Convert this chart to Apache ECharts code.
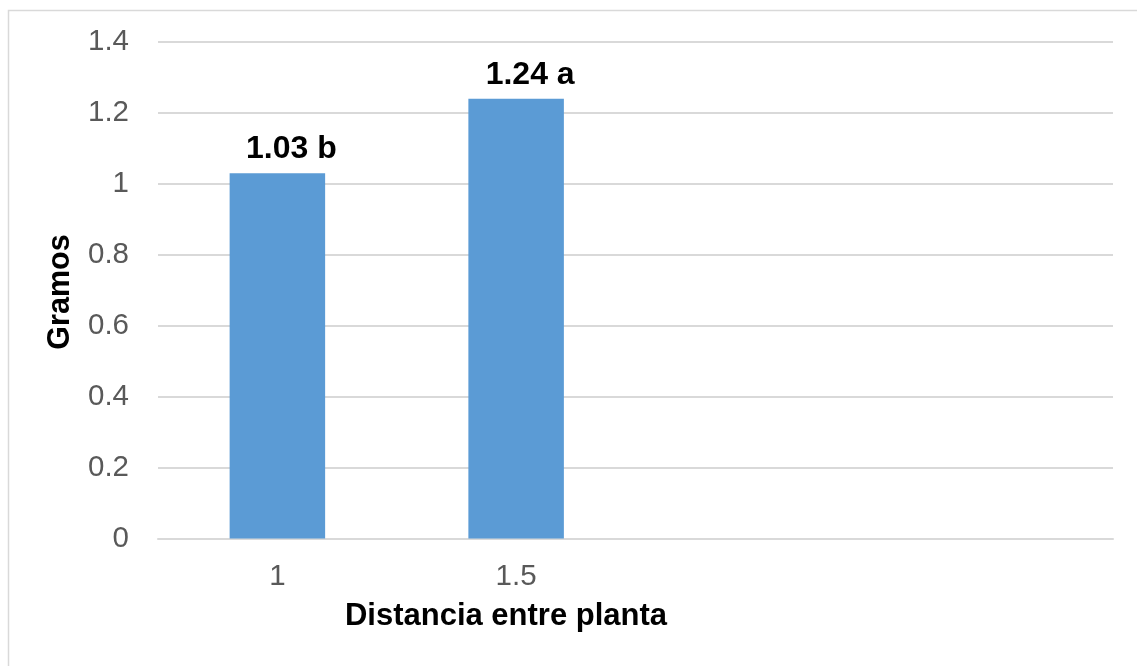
<!DOCTYPE html>
<html>
<head>
<meta charset="utf-8">
<script src="https://cdn.jsdelivr.net/npm/echarts@6/dist/echarts.min.js"></script>
<style>
  html, body { margin: 0; padding: 0; background: #fff; }
  #chart { width: 1137px; height: 666px; }
</style>
</head>
<body>
<div id="chart"></div>
<script>
// Plant spacing (x) vs. weight in grams, with significance letters
const categories = ['1', '1.5', '', ''];
const grams = [1.03, 1.24, null, null];
const letters = ['b', 'a', '', ''];
const yTicks = { min: 0, max: 1.4, step: 0.2 };

const FONT = '"Liberation Sans", Arial, sans-serif';

const chart = echarts.init(document.getElementById('chart'));

chart.setOption({
  animation: false,
  backgroundColor: '#fff',
  grid: { left: 158, right: 24, top: 42, bottom: 127.5 },
  xAxis: {
    type: 'category',
    data: categories,
    axisLine: { show: true, lineStyle: { color: '#d9d9d9', width: 2 } },
    axisTick: { show: false },
    axisLabel: { color: '#595959', fontFamily: FONT, fontSize: 29.5, margin: 23 }
  },
  yAxis: {
    type: 'value',
    min: yTicks.min,
    max: yTicks.max,
    interval: yTicks.step,
    axisLine: { show: false },
    axisTick: { show: false },
    splitLine: { lineStyle: { color: '#d9d9d9', width: 2 } },
    axisLabel: {
      color: '#595959', fontFamily: FONT, fontSize: 29.5, margin: 29,
      formatter: v => String(Math.round(v * 10) / 10)
    }
  },
  series: [{
    type: 'bar',
    data: grams,
    barWidth: '40%',
    itemStyle: { color: '#5b9bd5' },
    label: {
      show: true,
      position: 'top',
      distance: 8,
      offset: [14, 0],
      color: '#000',
      fontFamily: FONT,
      fontWeight: 'bold',
      fontSize: 32,
      formatter: p => p.value.toFixed(2) + ' ' + letters[p.dataIndex]
    }
  }],
  graphic: [
    {
      type: 'rect',
      shape: { x: 8.5, y: 10.5, width: 1140, height: 670 },
      style: { fill: 'none', stroke: '#d9d9d9', lineWidth: 1.5 },
      silent: true
    },
    {
      type: 'text',
      x: 506, y: 616,
      style: {
        text: 'Distancia entre planta',
        fill: '#000', font: 'bold 31px ' + FONT,
        align: 'center', verticalAlign: 'middle'
      }
    },
    {
      type: 'text',
      x: 61, y: 292,
      rotation: Math.PI / 2,
      style: {
        text: 'Gramos',
        fill: '#000', font: 'bold 30.5px ' + FONT,
        align: 'center', verticalAlign: 'middle'
      }
    }
  ]
});
</script>
</body>
</html>
